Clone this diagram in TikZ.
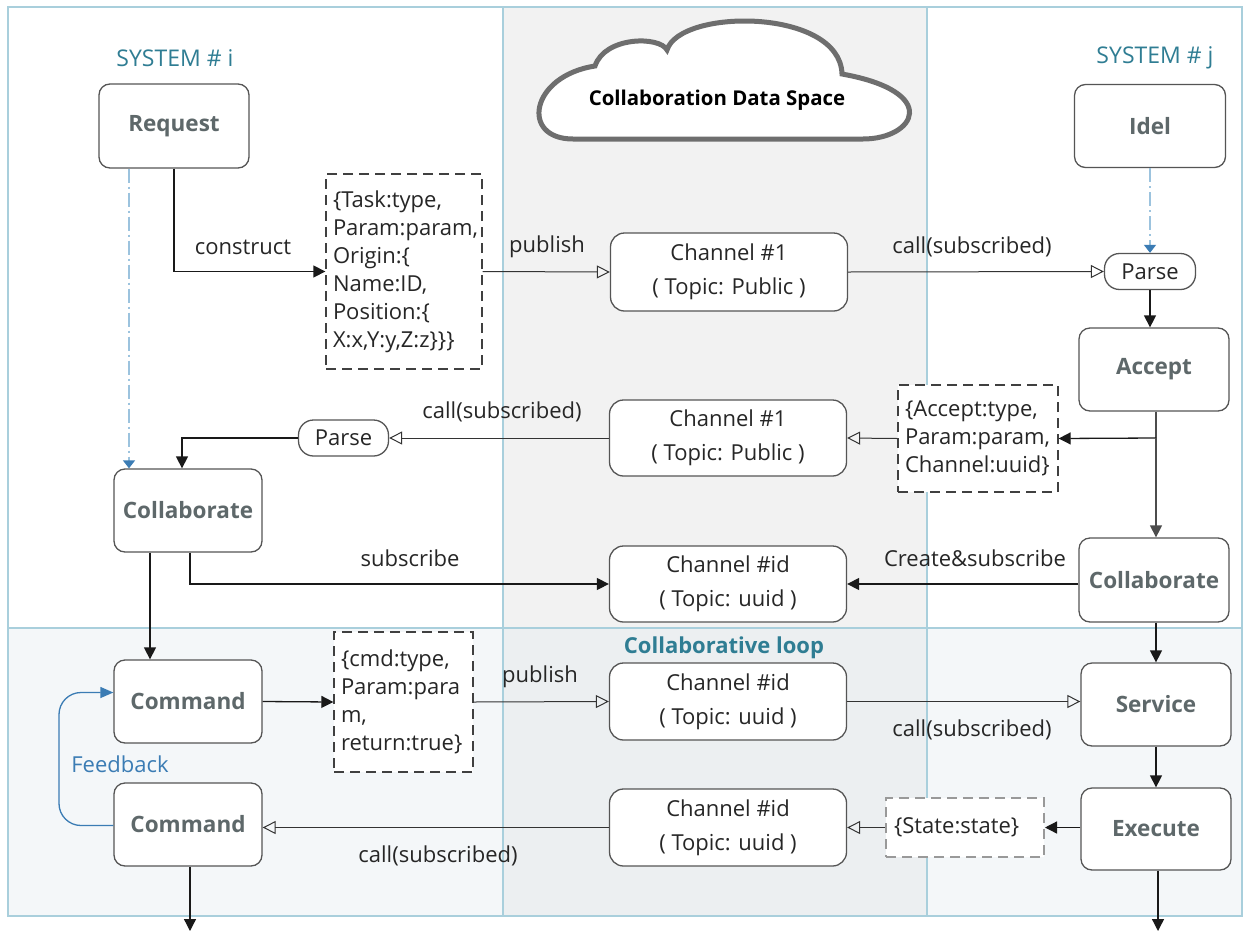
\documentclass[tikz,border=0pt]{standalone}
\usepackage{fontspec}
\setmainfont{Open Sans}
\usetikzlibrary{arrows.meta,calc}

\definecolor{frameblue}{HTML}{A9CFDC}
\definecolor{midgray}{HTML}{F2F2F2}
\definecolor{loopbg}{HTML}{F4F7F9}
\definecolor{loopmid}{HTML}{ECEFF1}
\definecolor{systeal}{HTML}{2F7D93}
\definecolor{statetxt}{HTML}{5E686A}
\definecolor{boxline}{HTML}{555555}
\definecolor{fbblue}{HTML}{3B7CB4}
\definecolor{lifeblue}{HTML}{9CC3DE}
\definecolor{cloudline}{HTML}{6E6E6E}

\tikzset{
  statebox/.style={draw=boxline, line width=1.3pt, rounded corners=11pt, fill=white,
    text=statetxt, font=\fontsize{22.5pt}{26pt}\selectfont\bfseries, inner sep=0pt},
  chanbox/.style={draw=boxline, line width=1.3pt, rounded corners=14pt, fill=white,
    text=black!85, align=center, font=\fontsize{22pt}{34pt}\selectfont,
    minimum width=237pt, minimum height=78pt, inner sep=0pt},
  msgbox/.style={draw=black!75, line width=1.3pt, dash pattern=on 10pt off 6pt, fill=white,
    align=left, text=black!85, font=\fontsize{22pt}{28pt}\selectfont, inner xsep=7pt, inner ysep=0pt},
  pillbox/.style={draw=boxline, line width=1.3pt, rounded corners=15pt, fill=white,
    text=black!85, font=\fontsize{22pt}{25pt}\selectfont, inner sep=0pt, minimum height=36pt},
  flow/.style={draw=black!90, line width=1.3pt, -{Triangle[width=12pt,length=12pt]}},
  pub/.style={draw=black!80, line width=1pt, -{Triangle[open,width=13pt,length=13pt,line width=1pt]}},
  lifeline/.style={draw=lifeblue, line width=1.3pt, dash pattern=on 14pt off 4pt on 2pt off 4pt,
    -{Triangle[width=12pt,length=8pt,color=fbblue]}},
  fb/.style={draw=fbblue, line width=1.3pt, rounded corners=22pt, -{Triangle[width=11pt,length=13pt]}},
  lbl/.style={font=\fontsize{22pt}{25pt}\selectfont, text=black!85, inner sep=0pt},
  systitle/.style={font=\fontsize{23pt}{26pt}\selectfont, text=systeal, inner sep=0pt},
  framel/.style={draw=frameblue, line width=1.5pt}
}

\begin{document}
\begin{tikzpicture}[x=1pt,y=-1pt]
\useasboundingbox (0,0) rectangle (1245,932);
\fill[white] (0,0) rectangle (1245,932);

% swimlane backgrounds
\fill[midgray] (503,7) rectangle (927,628);
\fill[loopbg] (8,628) rectangle (1242,916);
\fill[loopmid] (503,628) rectangle (927,916);
\draw[framel] (8,7) rectangle (1242,916);
\draw[framel] (503,7) -- (503,916);
\draw[framel] (927,7) -- (927,916);
\draw[framel] (8,628) -- (1242,628);

% lane titles
\node[systitle] (sysi) at (175,58) {SYSTEM \# i};
\node[systitle] (sysj) at (1155,58) {SYSTEM \# j};
\node[font=\fontsize{22pt}{25pt}\selectfont\bfseries, text=systeal, inner sep=0pt] (looplbl) at (724,648) {Collaborative loop};

% shared data space
\draw[cloudline, line width=5pt, fill=white]
  (573,139) -- (863,139)
  .. controls (915,139) and (942,92) .. (842,74)
  .. controls (840,8) and (680,8) .. (667,50)
  .. controls (660,36) and (605,36) .. (595,66)
  .. controls (530,76) and (520,139) .. (573,139) -- cycle;
\node[font=\fontsize{20.4pt}{24pt}\selectfont\bfseries, inner sep=0pt] (cloudtxt) at (717,100) {Collaboration Data Space};

% system i
\node[statebox, minimum width=150pt, minimum height=84pt] (req) at (174,126) {Request};
\node[statebox, minimum width=148pt, minimum height=83pt] (collabL) at (188,510.5) {Collaborate};
\node[statebox, minimum width=148pt, minimum height=83pt] (cmdA) at (188,701.5) {Command};
\node[statebox, minimum width=148pt, minimum height=83pt] (cmdB) at (188,824.5) {Command};
\node[pillbox, minimum width=90pt] (parseL) at (343.5,438) {Parse};

% system j
\node[statebox, minimum width=151pt, minimum height=83pt] (idel) at (1150,126) {Idel};
\node[pillbox, minimum width=91pt] (parseR) at (1150,271.5) {Parse};
\node[statebox, minimum width=150pt, minimum height=83pt] (accept) at (1154,369.5) {Accept};
\node[statebox, minimum width=150pt, minimum height=84pt] (collabR) at (1154,580) {Collaborate};
\node[statebox, minimum width=150pt, minimum height=83pt] (service) at (1156,704.5) {Service};
\node[statebox, minimum width=150pt, minimum height=82pt] (execute) at (1156,829) {Execute};

% channels
\node[chanbox] (ch1a) at (729,272) {Channel \#1\\( Topic: Public )};
\node[chanbox, minimum height=76pt] (ch1b) at (728,438) {Channel \#1\\( Topic: Public )};
\node[chanbox, minimum height=76pt] (chidA) at (728,584) {Channel \#id\\( Topic: uuid )};
\node[chanbox, minimum height=77pt] (chidB) at (728,701.5) {Channel \#id\\( Topic: uuid )};
\node[chanbox, minimum height=77pt] (chidC) at (728,827.5) {Channel \#id\\( Topic: uuid )};

% messages
\node[msgbox, text width=142pt, minimum height=195pt] (msg1) at (404,271.5)
  {\{Task:type,\\Param:param,\\Origin:\{\\Name:ID,\\Position:\{\\X:x,Y:y,Z:z\}\}\}};
\node[msgbox, text width=146pt, minimum height=107pt] (msg2) at (978,438.5)
  {\{Accept:type,\\Param:param,\\Channel:uuid\}};
\node[msgbox, text width=125pt, minimum height=140pt] (msg3) at (403.5,702)
  {\{cmd:type,\\Param:para\\m,\\return:true\}};
\node[msgbox, draw=black!40, line width=2pt, text width=142pt, minimum height=59pt, inner xsep=8pt] (msg4) at (965,827.5)
  {\{State:state\}};

% helper points
\coordinate (br) at (1156,438);
\coordinate (outL) at (190,931);
\coordinate (outR) at (1158,931);
\coordinate (fbx) at (59,0);

% lifelines
\draw[lifeline] ([xshift=-45pt]req.south) -- ([xshift=-59pt]collabL.north);
\draw[lifeline] (idel.south) -- (parseR.north);

% request flow
\draw[flow] (req.south) |- (msg1.west);
\draw[pub] (msg1.east) -- (ch1a.west);
\draw[pub] (ch1a.east) -- (parseR.west);
\draw[flow] (parseR.south) -- (accept.north -| parseR.south);
\draw[draw=black!70, line width=1.2pt] (accept.south -| br) -- (br);
\draw[flow] (br) -- (msg2.east);
\draw[flow, draw=black!70] (br) -- (collabR.north -| br);
\draw[pub] (msg2.west) -- (ch1b.east);
\draw[pub] (ch1b.west) -- (parseL.east);
\draw[flow] (parseL.west) -| ([xshift=-6pt]collabL.north);
\draw[flow] ([xshift=2pt]collabL.south) |- (chidA.west);
\draw[flow] (collabR.west |- chidA.east) -- (chidA.east);
\draw[flow] ([xshift=-38pt]collabL.south) -- ([xshift=-38pt]cmdA.north);
\draw[flow] (collabR.south -| br) -- (service.north -| br);

% collaborative loop
\draw[flow] (cmdA.east) -- (msg3.west);
\draw[pub] (msg3.east) -- (chidB.west);
\draw[pub] (chidB.east) -- (chidB.east -| service.west);
\draw[flow] (service.south -| br) -- (execute.north -| br);
\draw[flow] (execute.west |- msg4.east) -- (msg4.east);
\draw[pub] (msg4.west) -- (chidC.east);
\draw[pub] (chidC.west) -- (chidC.west -| cmdB.east);
\draw[fb] ([yshift=-1pt]cmdB.west) -- ([yshift=-1pt]cmdB.west -| fbx) -- ([yshift=9pt]cmdA.west -| fbx) -- ([yshift=9pt]cmdA.west);
\draw[flow] (cmdB.south -| outL) -- (outL);
\draw[flow] (execute.south -| outR) -- (outR);

% connector labels
\node[lbl] (lconstruct) at (243,247) {construct};
\node[lbl] (lpub1) at (547,247) {publish};
\node[lbl] (lcall1) at (972,247) {call(subscribed)};
\node[lbl] (lcall2) at (502,412) {call(subscribed)};
\node[lbl] (lsub) at (410,558) {subscribe};
\node[lbl] (lcreate) at (975,558) {Create\&subscribe};
\node[lbl] (lpub2) at (540,677) {publish};
\node[lbl] (lcall3) at (972,730) {call(subscribed)};
\node[lbl] (lcall4) at (438,856) {call(subscribed)};
\node[lbl, text=fbblue] (lfb) at (120,764) {Feedback};
\end{tikzpicture}
\end{document}
